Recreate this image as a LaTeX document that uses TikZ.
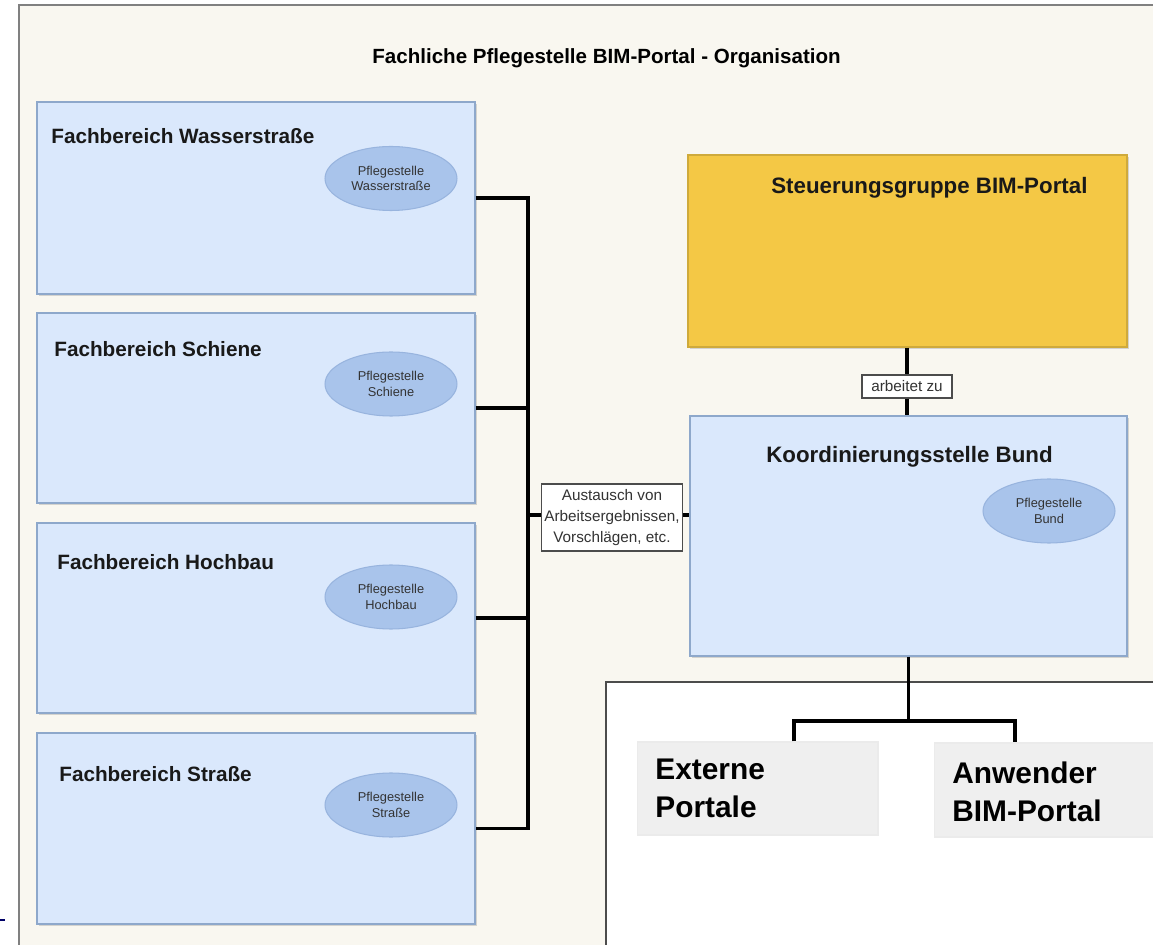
\documentclass[tikz,border=0pt]{standalone}
\usepackage{fontspec}
\setmainfont{Liberation Sans}
\usetikzlibrary{shapes.geometric,shadows}
\definecolor{creme}{HTML}{F9F7F0}
\definecolor{hblau}{HTML}{DAE8FC}
\definecolor{rblau}{HTML}{8EA8CB}
\definecolor{eblau}{HTML}{A9C4EB}
\definecolor{erand}{HTML}{98B4DE}
\definecolor{gelb}{HTML}{F4C845}
\definecolor{hgrau}{HTML}{EFEFEF}
\definecolor{dgrau}{HTML}{333333}

\begin{document}
\begin{tikzpicture}[x=0.02cm,y=-0.02cm,
  fbox/.style={draw=rblau,fill=hblau,line width=0.8pt,inner sep=0pt,
    drop shadow={shadow xshift=1pt,shadow yshift=-1.2pt,opacity=0.3}},
  pstelle/.style={ellipse,draw=erand,fill=eblau,line width=0.6pt,inner sep=0pt,
    minimum width=2.64cm,minimum height=1.28cm,align=center,text=dgrau,
    font=\fontsize{7.3}{9}\selectfont},
  ftitel/.style={anchor=base west,inner sep=0pt,text=black!90,
    font=\bfseries\fontsize{11.8}{14}\selectfont},
  conn/.style={line width=2.2pt,black},
  lbl/.style={draw=black!70,fill=white,line width=0.6pt,align=center,inner sep=1.5pt,
    text=dgrau,font=\fontsize{8.7}{12}\selectfont},
  gbox/.style={fill=hgrau,draw=black!8,line width=0.6pt,inner sep=0pt},
  gtext/.style={anchor=north west,inner sep=0pt,align=left,
    font=\bfseries\fontsize{17}{21.6}\selectfont}
]
\useasboundingbox (0,0) rectangle (1153,945);
\clip (0,0) rectangle (1153,945);
\fill[white] (0,0) rectangle (1153,945);
\draw[fill=creme,draw=black!50,line width=1pt] (19,5) rectangle (1170,960);
\draw[blue!40!black,line width=0.8pt] (0,920) -- (5,920);

\node (titel) [anchor=base west,inner sep=0pt,font=\bfseries\fontsize{11.7}{14}\selectfont] at (372,64)
  {Fachliche Pflegestelle BIM-Portal - Organisation};

\node (ws) [fbox,minimum width=8.76cm,minimum height=3.84cm] at (256,198) {};
\node (sc) [fbox,minimum width=8.76cm,minimum height=3.8cm] at (256,408) {};
\node (hb) [fbox,minimum width=8.76cm,minimum height=3.8cm] at (256,618) {};
\node (st) [fbox,minimum width=8.76cm,minimum height=3.82cm] at (256,828.5) {};

\node (wsT) [ftitel] at (51,144) {Fachbereich Wasserstraße};
\node (scT) [ftitel] at (54,357) {Fachbereich Schiene};
\node (hbT) [ftitel] at (57,570) {Fachbereich Hochbau};
\node (stT) [ftitel] at (59,781) {Fachbereich Straße};

\node (wsP) [pstelle] at (391,178.5) {Pflegestelle\\Wasserstraße};
\node (scP) [pstelle] at (391,384) {Pflegestelle\\Schiene};
\node (hbP) [pstelle] at (391,597) {Pflegestelle\\Hochbau};
\node (stP) [pstelle] at (391,805) {Pflegestelle\\Straße};

\node (stg) [fbox,draw=gelb!85!black,fill=gelb,minimum width=8.78cm,minimum height=3.84cm] at (907.5,251) {};
\node (stgT) [ftitel,font=\bfseries\fontsize{12.7}{15}\selectfont] at (771,194) {Steuerungsgruppe BIM-Portal};

\node (kb) [fbox,minimum width=8.74cm,minimum height=4.8cm] at (908.5,536) {};
\node (kbT) [ftitel,font=\bfseries\fontsize{12.7}{15}\selectfont] at (766,463) {Koordinierungsstelle Bund};
\node (kbP) [pstelle] at (1049,511) {Pflegestelle\\Bund};

\node (aus) [lbl,minimum width=2.8cm,minimum height=1.34cm] at (612,517.5)
  {Austausch von\\Arbeitsergebnissen,\\Vorschlägen, etc.};
\node (arb) [lbl,minimum width=1.8cm,minimum height=0.46cm,inner sep=1pt] at (907,386.5) {arbeitet zu};

\coordinate (bus) at (528,515);
\draw[conn] (ws.east) -| (bus) |- (st.east);
\draw[conn] (sc.east) -- (sc.east -| bus);
\draw[conn] (hb.east) -- (hb.east -| bus);
\draw[conn] (bus) -- (bus -| aus.west);
\draw[conn] (aus.east |- bus) -- (bus -| kb.west);
\draw[conn] (stg.south -| arb) -- (arb.north);
\draw[conn] (arb.south) -- (arb.south |- kb.north);

\draw[draw=black!70,fill=white,line width=1.1pt] (606,682) rectangle (1170,960);

\node (ext) [gbox,minimum width=4.82cm,minimum height=1.86cm] at (757.5,788.5) {};
\node (anw) [gbox,minimum width=4.6cm,minimum height=1.88cm,anchor=west] at (934,790) {};
\node (extT) [gtext] at (655,759) {Externe\\Portale};
\node (anwT) [gtext] at (952,762) {Anwender\\BIM-Portal};

\path (kb.south) ++(0,64) coordinate (split);
\draw[conn] (kb.south) -- (split);
\draw[conn] ([xshift=0.73cm]ext.north) |- (split) -| ([xshift=1.62cm]anw.north west);
\end{tikzpicture}
\end{document}
